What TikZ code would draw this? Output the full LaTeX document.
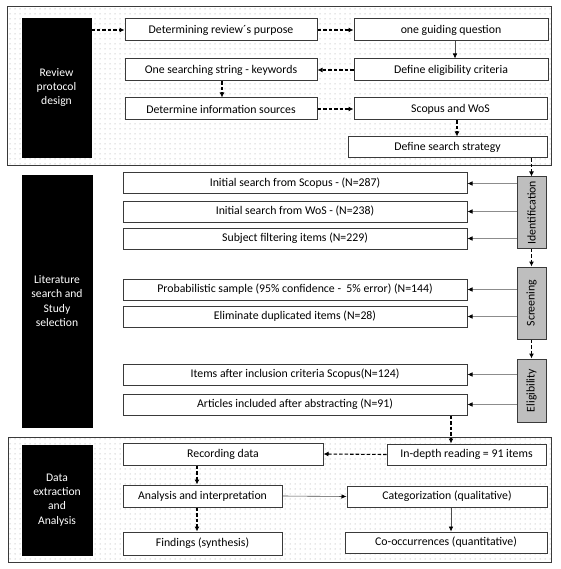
\documentclass[tikz,border=0pt]{standalone}
\usepackage{fontspec}
\setmainfont{Carlito}
\usetikzlibrary{arrows.meta,patterns.meta,calc}
\definecolor{frm}{HTML}{3A3A3A}
\definecolor{grybox}{HTML}{BEBEBE}
\begin{document}
\begin{tikzpicture}[x=1pt,y=-1pt,
  font=\fontsize{11.8}{13}\selectfont,
  panel/.style={draw=frm,line width=1pt,fill=white,postaction={pattern={Dots[radius=0.5pt,distance=5pt]},pattern color=black!40}},
  blk/.style={fill=black,draw=black,text=white,align=center,inner sep=0pt,font=\fontsize{11.6}{14.3}\selectfont},
  bx/.style={draw=frm,line width=1pt,fill=white,inner sep=0pt,anchor=center},
  gbox/.style={draw=frm,line width=1pt,fill=grybox,inner sep=0pt},
  dsh/.style={dash pattern=on 3.5pt off 2pt,line width=1.1pt,-{Latex[length=5pt,width=5pt]}},
  thn/.style={line width=0.6pt,draw=black!45,-{Latex[length=5pt,width=4.5pt,fill=black,color=black]}},
  thd/.style={line width=0.6pt,draw=black!70,-{Latex[length=5pt,width=4.5pt,fill=black,color=black]}}]
\useasboundingbox (0,0) rectangle (560,569);
% panels
\path[panel] (7,7) rectangle (551,166);
\path[panel] (8,437) rectangle (551,562);
% black boxes
\node[blk,minimum width=69pt,minimum height=139pt] (b1) at (56.5,87.5) {Review\\protocol\\design};
\node[blk,minimum width=70pt,minimum height=252pt] (b2) at (57,301) {Literature\\search and\\Study\\selection};
\node[blk,minimum width=70pt,minimum height=110pt] (b3) at (57,500) {Data\\extraction\\and\\Analysis};
% panel 1 boxes
\node[bx,minimum width=192pt,minimum height=22pt] (purp) at (221,30) {Determining review´s purpose};
\node[bx,minimum width=194pt,minimum height=22pt] (guid) at (451,30) {one guiding question};
\node[bx,minimum width=194pt,minimum height=22pt] (elig) at (451,70) {Define eligibility criteria};
\node[bx,minimum width=192pt,minimum height=22pt] (keyw) at (221,70) {One searching string - keywords};
\node[bx,minimum width=192pt,minimum height=22pt] (info) at (221,109) {Determine information sources};
\node[bx,minimum width=193pt,minimum height=22pt] (scop) at (450.5,109) {Scopus and WoS};
\node[bx,minimum width=199pt,minimum height=21pt] (strat) at (447.5,147.5) {Define search strategy};
% panel 2 boxes
\node[bx,minimum width=344pt,minimum height=21pt] (s1) at (295,183.5) {Initial search from Scopus - (N=287)};
\node[bx,minimum width=344pt,minimum height=21pt] (s2) at (295,211.5) {Initial search from WoS - (N=238)};
\node[bx,minimum width=344pt,minimum height=21pt] (s3) at (295,238.5) {Subject filtering items (N=229)};
\node[bx,minimum width=344pt,minimum height=21pt] (s4) at (295,289.5) {Probabilistic sample (95\% confidence -~ 5\% error) (N=144)};
\node[bx,minimum width=344pt,minimum height=21pt] (s5) at (295,316.5) {Eliminate duplicated items (N=28)};
\node[bx,minimum width=344pt,minimum height=21pt] (s6) at (295,374.5) {Items after inclusion criteria Scopus(N=124)};
\node[bx,minimum width=344pt,minimum height=21pt] (s7) at (295,404.5) {Articles included after abstracting (N=91)};
% gray boxes
\node[gbox,minimum width=29pt,minimum height=71pt] (ident) at (531.5,212.5) {\rotatebox{90}{Identification}};
\node[gbox,minimum width=29pt,minimum height=72pt] (scr) at (531.5,303) {\rotatebox{90}{Screening}};
\node[gbox,minimum width=29pt,minimum height=63pt] (elg) at (531.5,390.5) {\rotatebox{90}{Eligibility}};
% panel 3 boxes
\node[bx,minimum width=200pt,minimum height=22pt] (rec) at (223,454) {Recording data};
\node[bx,minimum width=159pt,minimum height=21pt] (indep) at (466.5,454.5) {In-depth reading = 91 items};
\node[bx,minimum width=159pt,minimum height=22pt] (anal) at (202.5,496) {Analysis and interpretation};
\node[bx,minimum width=159pt,minimum height=23pt] (find) at (202.5,543.5) {Findings (synthesis)};
\node[bx,minimum width=200pt,minimum height=21pt] (categ) at (447,496.5) {Categorization (qualitative)};
\node[bx,minimum width=202pt,minimum height=21pt] (cooc) at (446,542.5) {Co-occurrences (quantitative)};
% helper coordinates
\coordinate (x455) at (455,0);
\coordinate (x222) at (222,0);
\coordinate (x457) at (457,0);
\coordinate (x451) at (451,0);
\coordinate (x197) at (197,0);
% panel 1 connectors
\draw[dsh] (b1.east |- purp) -- (purp.west);
\draw[dsh] (purp.east) -- (guid.west);
\draw[thd] (x455 |- guid.south) -- (x455 |- elig.north);
\draw[dsh] (elig.west) -- (keyw.east);
\draw[dsh] (x222 |- keyw.south) -- (x222 |- info.north);
\draw[dsh] (info.east) -- (scop.west);
\draw[dsh] (x457 |- scop.south) -- (x457 |- strat.north);
\draw[dsh] (ident.north |- strat.south) -- (ident.north);
% panel 2 connectors
\draw[thn] (ident.west |- s1) -- (s1.east);
\draw[thn] (ident.west |- s2) -- (s2.east);
\draw[thn] (ident.west |- s3) -- (s3.east);
\draw[thn] (scr.west |- s4) -- (s4.east);
\draw[thn] (scr.west |- s5) -- (s5.east);
\draw[thn] (elg.west |- s6) -- (s6.east);
\draw[thn] (elg.west |- s7) -- (s7.east);
\draw[dsh] (ident.south) -- (scr.north);
\draw[dsh] (scr.south) -- (elg.north);
\draw[dsh] (x451 |- s7.south) -- (x451 |- indep.north);
% panel 3 connectors
\draw[dsh] (indep.west) -- (rec.east);
\draw[dsh] (x197 |- rec.south) -- (x197 |- anal.north);
\draw[dsh] (x197 |- anal.south) -- (x197 |- find.north);
\draw[thd] (anal.east) -- (categ.west);
\draw[thd] (x451 |- categ.south) -- (x451 |- cooc.north);
\end{tikzpicture}
\end{document}
